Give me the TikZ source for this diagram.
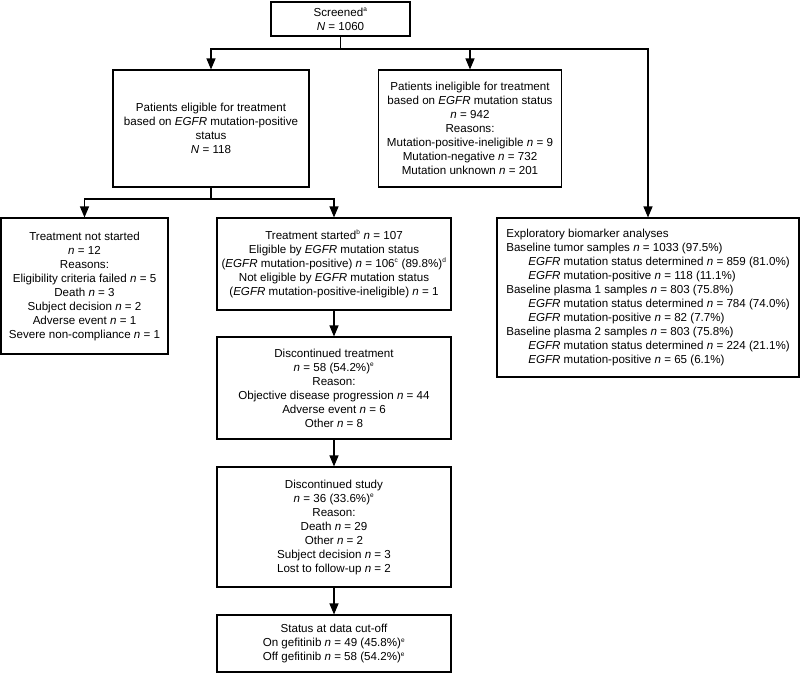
\documentclass[tikz,border=0pt]{standalone}
\usepackage{fontspec}
\setmainfont{Liberation Sans}
\usetikzlibrary{arrows.meta}

\newcommand{\nn}{\textit{n}}
\newcommand{\egfr}{\textit{EGFR}}
\newcommand{\indt}{\hspace*{22pt}}
\newcommand{\fnote}[1]{\textsuperscript{\fontsize{6.5}{7}\selectfont #1}}

\tikzset{
    box/.style={draw, line width=1.1pt, inner sep=0pt, align=center,
        font=\fontsize{11.6}{14}\selectfont},
    link/.style={line width=1.1pt},
    arr/.style={line width=1.1pt, -{Triangle[length=11pt,width=9pt]}},
}

\begin{document}
\begin{tikzpicture}[x=1pt,y=-1pt]
    \useasboundingbox (0,0) rectangle (800,673);

    % top row
    \node[box, minimum width=139pt, minimum height=34pt] (screen) at (340.5,19)
        {Screened\fnote{a}\\\textit{N} = 1060};
    \node[box, minimum width=196pt, minimum height=117pt] (elig) at (211,128.5)
        {Patients eligible for treatment\\based on \egfr{} mutation-positive\\status\\\textit{N} = 118};
    \node[box, minimum width=183pt, minimum height=117pt] (inelig) at (470,128.5)
        {Patients ineligible for treatment\\based on \egfr{} mutation status\\\nn{} = 942\\Reasons:\\
         Mutation-positive-ineligible \nn{} = 9\\Mutation-negative \nn{} = 732\\Mutation unknown \nn{} = 201};

    % second row
    \node[box, minimum width=167pt, minimum height=136pt] (notstart) at (84.5,286)
        {Treatment not started\\\nn{} = 12\\Reasons:\\Eligibility criteria failed \nn{} = 5\\
         Death \nn{} = 3\\Subject decision \nn{} = 2\\Adverse event \nn{} = 1\\Severe non-compliance \nn{} = 1};
    \node[box, minimum width=234pt, minimum height=92pt] (started) at (334,264)
        {Treatment started\fnote{b} \nn{} = 107\\Eligible by \egfr{} mutation status\\
         (\egfr{} mutation-positive) \nn{} = 106\fnote{c} (89.8\%)\fnote{d}\\
         Not eligible by \egfr{} mutation status\\(\egfr{} mutation-positive-ineligible) \nn{} = 1};
    \node[box, align=left, minimum width=302pt, minimum height=159pt] (explor) at (648,297.5)
        {Exploratory biomarker analyses\\
         Baseline tumor samples \nn{} = 1033 (97.5\%)\\
         \indt\egfr{} mutation status determined \nn{} = 859 (81.0\%)\\
         \indt\egfr{} mutation-positive \nn{} = 118 (11.1\%)\\
         Baseline plasma 1 samples \nn{} = 803 (75.8\%)\\
         \indt\egfr{} mutation status determined \nn{} = 784 (74.0\%)\\
         \indt\egfr{} mutation-positive \nn{} = 82 (7.7\%)\\
         Baseline plasma 2 samples \nn{} = 803 (75.8\%)\\
         \indt\egfr{} mutation status determined \nn{} = 224 (21.1\%)\\
         \indt\egfr{} mutation-positive \nn{} = 65 (6.1\%)};

    % middle column
    \node[box, minimum width=234pt, minimum height=102pt] (disctreat) at (334,388)
        {Discontinued treatment\\\nn{} = 58 (54.2\%)\fnote{e}\\Reason:\\
         Objective disease progression \nn{} = 44\\Adverse event \nn{} = 6\\Other \nn{} = 8};
    \node[box, minimum width=234pt, minimum height=120pt] (discstudy) at (334,527)
        {Discontinued study\\\nn{} = 36 (33.6\%)\fnote{e}\\Reason:\\Death \nn{} = 29\\
         Other \nn{} = 2\\Subject decision \nn{} = 3\\Lost to follow-up \nn{} = 2};
    \node[box, minimum width=234pt, minimum height=57pt] (status) at (334,643.5)
        {Status at data cut-off\\On gefitinib \nn{} = 49 (45.8\%)\fnote{e}\\
         Off gefitinib \nn{} = 58 (54.2\%)\fnote{e}};

    % connectors
    \coordinate (split1) at (screen.south |- 0,49);
    \draw[link] (screen.south) -- (split1);
    \draw[arr] (split1) -| (elig.north);
    \draw[arr] (split1) -| (inelig.north);
    \draw[arr] (split1) -| (explor.north);

    \coordinate (split2) at (elig.south |- 0,199);
    \draw[link] (elig.south) -- (split2);
    \draw[arr] (split2) -| (notstart.north);
    \draw[arr] (split2) -| (started.north);

    \draw[arr] (started) -- (disctreat);
    \draw[arr] (disctreat) -- (discstudy);
    \draw[arr] (discstudy) -- (status);
\end{tikzpicture}
\end{document}
